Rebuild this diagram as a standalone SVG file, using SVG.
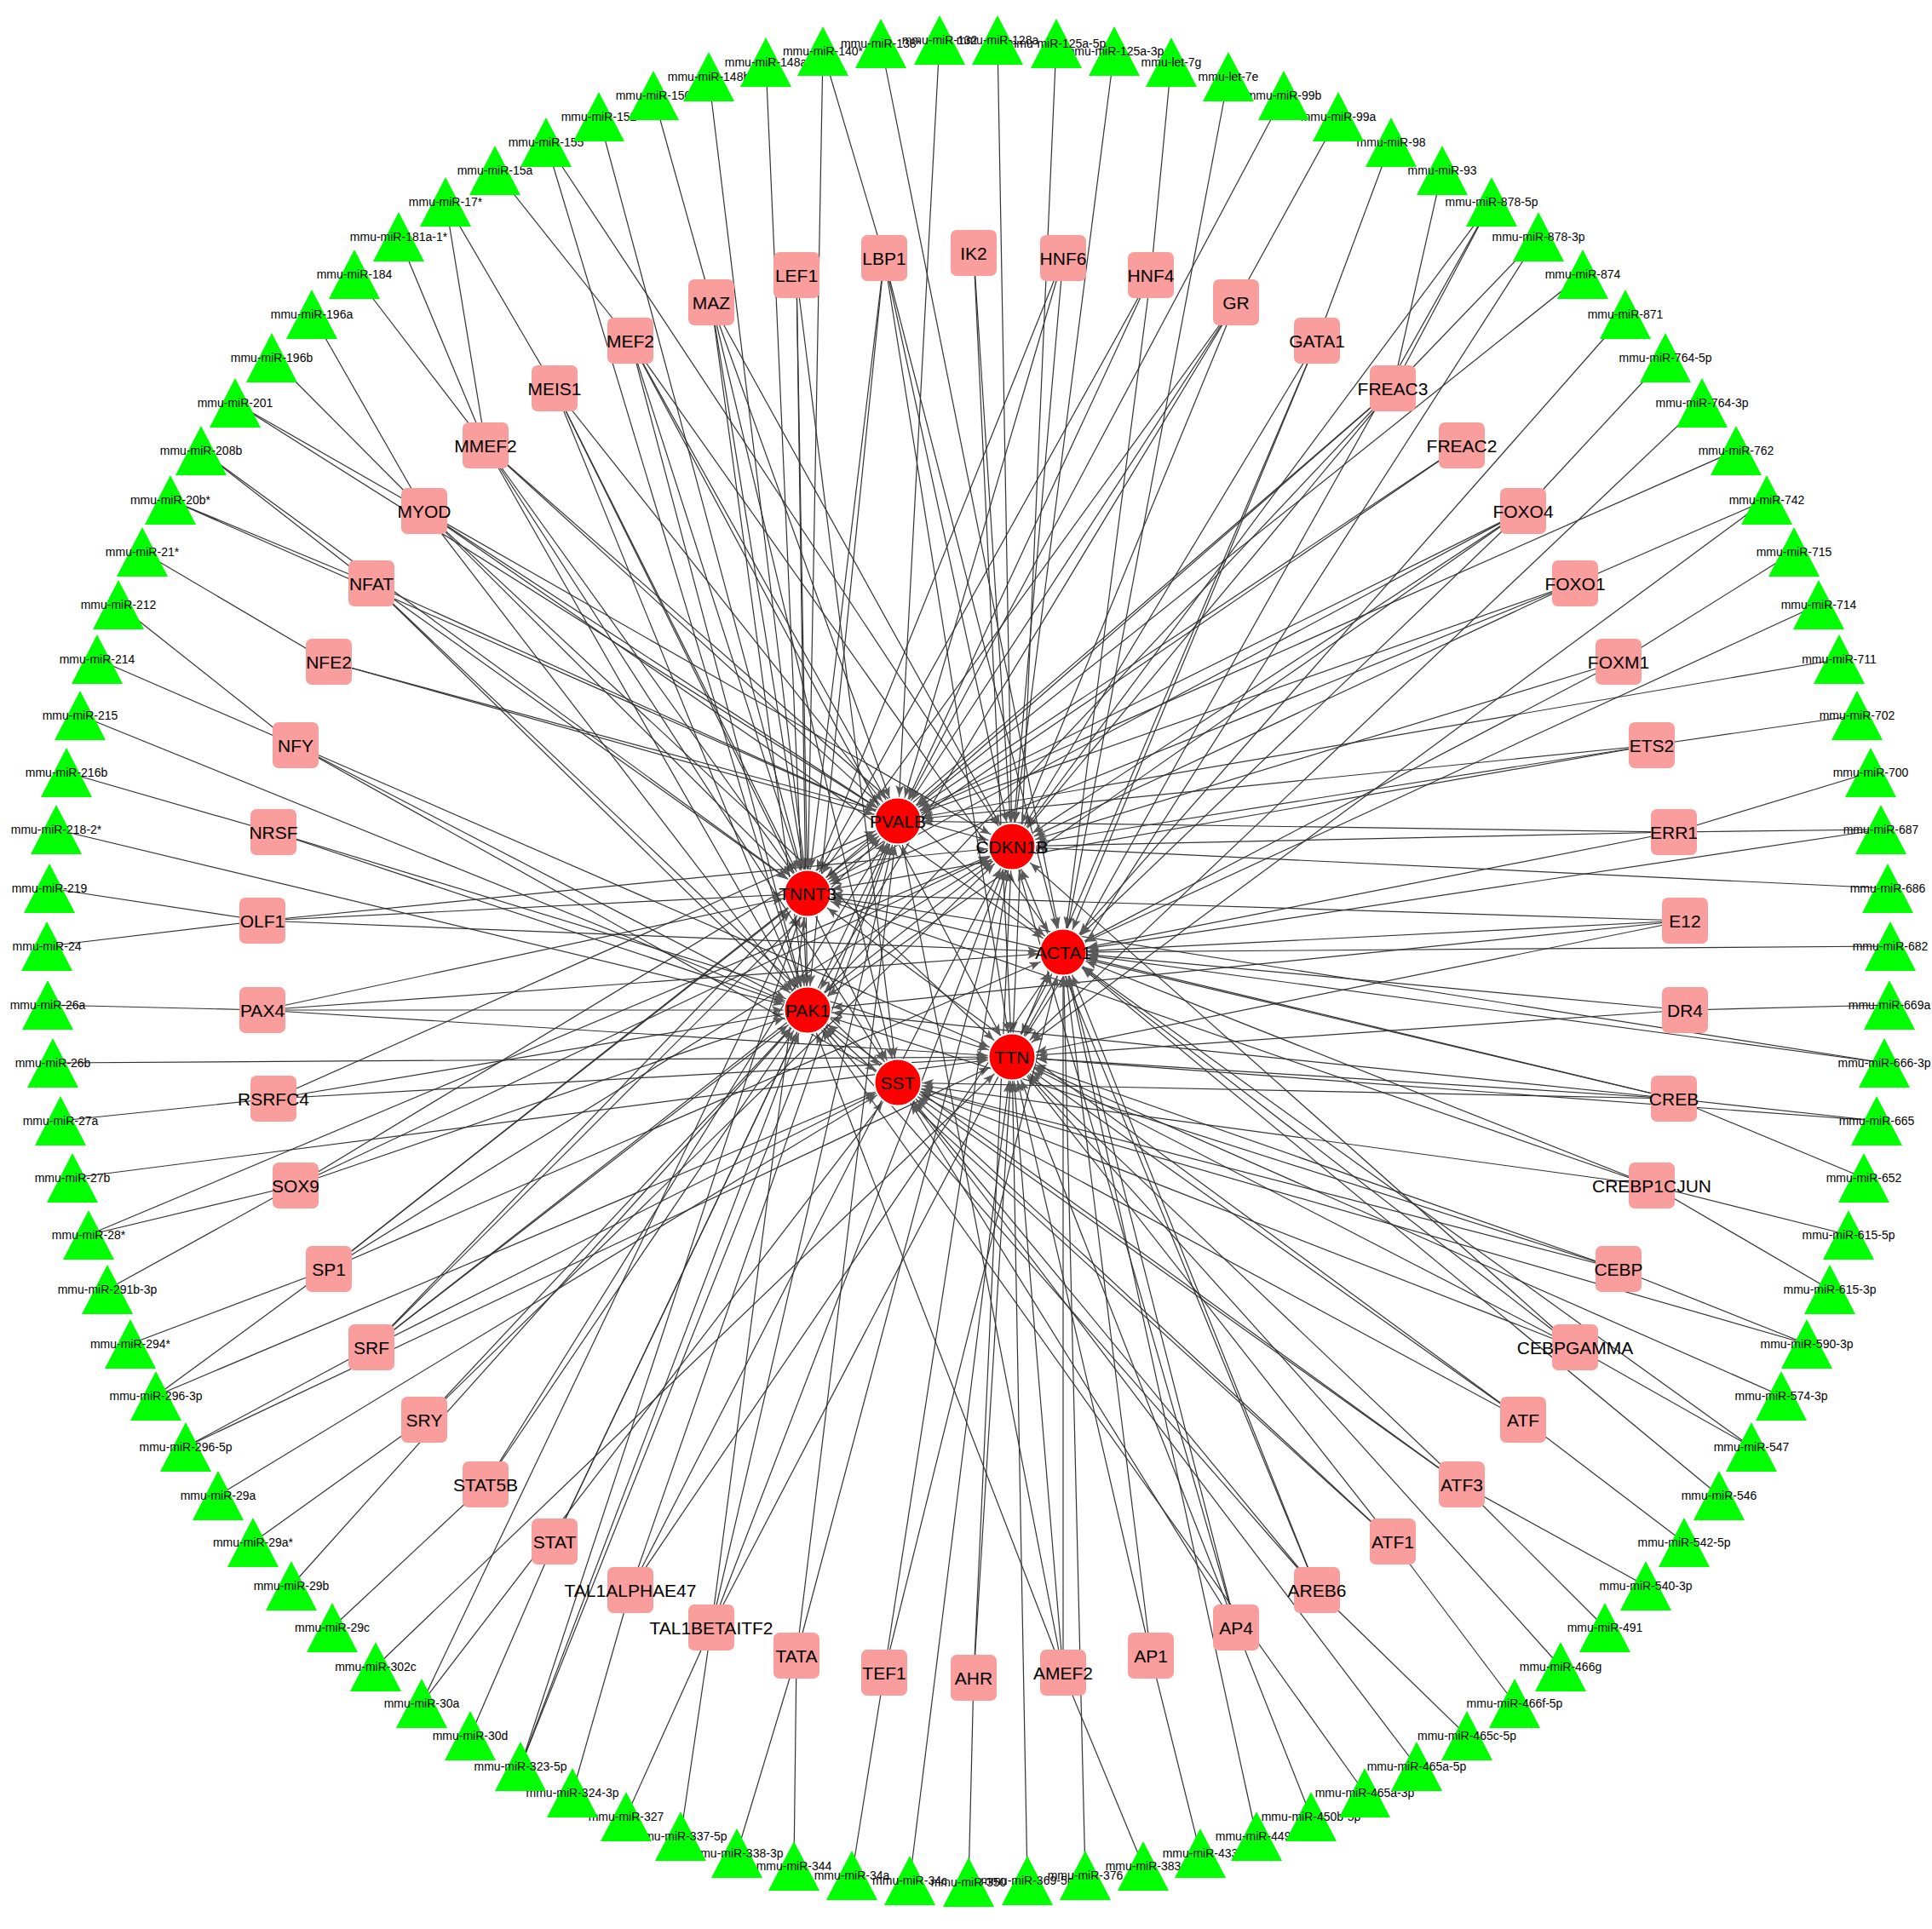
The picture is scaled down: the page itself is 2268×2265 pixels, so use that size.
<svg xmlns="http://www.w3.org/2000/svg" xmlns:xlink="http://www.w3.org/1999/xlink" width="2268" height="2265" viewBox="0 0 2268 2265">
<style>
.bg{fill:#fff}
#connectors line{stroke:#333;stroke-width:1.2;fill:none}
#connectors line.a{marker-end:url(#arr)}
.mi use{fill:#00ff00}
.mi text{font-family:"Liberation Sans",Arial,sans-serif;font-size:14px;fill:#000;text-anchor:middle}
.tf rect{fill:#fa9d9d}
.tf text,.gn text{font-family:"Liberation Sans",Arial,sans-serif;font-size:21px;fill:#000;text-anchor:middle}
.gn circle{fill:#ff0000;stroke:#fff;stroke-width:2}
</style>
<defs>
<marker id="arr" markerUnits="userSpaceOnUse" markerWidth="14" markerHeight="10" refX="42" refY="5" orient="auto"><path d="M0,0L13,5L0,10L3,5z" fill="#5a5a5a"/></marker>
<polygon id="tri" points="0,-29 30,29 -30,29"/>
</defs>
<rect class="bg" x="0" y="0" width="2268" height="2265"/>
<g id="connectors">
<line x1="1375" y1="73" x2="1351" y2="323"/>
<line x1="1571" y1="137" x2="1451" y2="355"/>
<line x1="1633" y1="167" x2="1546" y2="400"/>
<line x1="1693" y1="200" x2="1635" y2="456"/>
<line x1="1751" y1="237" x2="1635" y2="456"/>
<line x1="1806" y1="278" x2="1635" y2="456"/>
<line x1="1955" y1="420" x2="1788" y2="600"/>
<line x1="2074" y1="587" x2="1849" y2="685"/>
<line x1="2106" y1="648" x2="1900" y2="777"/>
<line x1="2180" y1="840" x2="1939" y2="875"/>
<line x1="2196" y1="907" x2="1965" y2="977"/>
<line x1="2208" y1="974" x2="1965" y2="977"/>
<line x1="2218" y1="1180" x2="1978" y2="1186"/>
<line x1="2203" y1="1316" x2="1965" y2="1290"/>
<line x1="2188" y1="1383" x2="1965" y2="1290"/>
<line x1="2170" y1="1450" x2="1939" y2="1392"/>
<line x1="2148" y1="1514" x2="1939" y2="1392"/>
<line x1="2121" y1="1578" x2="1900" y2="1490"/>
<line x1="2056" y1="1699" x2="1849" y2="1582"/>
<line x1="1977" y1="1811" x2="1788" y2="1667"/>
<line x1="1932" y1="1862" x2="1716" y2="1743"/>
<line x1="1884" y1="1911" x2="1716" y2="1743"/>
<line x1="1778" y1="2000" x2="1635" y2="1810"/>
<line x1="1722" y1="2038" x2="1546" y2="1867"/>
<line x1="1539" y1="2133" x2="1451" y2="1911"/>
<line x1="1409" y1="2176" x2="1351" y2="1944"/>
<line x1="1342" y1="2191" x2="1248" y2="1964"/>
<line x1="1137" y1="2210" x2="1143" y2="1970"/>
<line x1="1000" y1="2202" x2="1038" y2="1964"/>
<line x1="932" y1="2191" x2="935" y2="1944"/>
<line x1="865" y1="2176" x2="935" y2="1944"/>
<line x1="799" y1="2156" x2="835" y2="1911"/>
<line x1="735" y1="2133" x2="835" y2="1911"/>
<line x1="672" y1="2105" x2="740" y2="1867"/>
<line x1="552" y1="2038" x2="651" y2="1810"/>
<line x1="390" y1="1911" x2="570" y2="1743"/>
<line x1="297" y1="1811" x2="498" y2="1667"/>
<line x1="218" y1="1699" x2="436" y2="1582"/>
<line x1="183" y1="1639" x2="386" y2="1490"/>
<line x1="153" y1="1578" x2="386" y2="1490"/>
<line x1="126" y1="1514" x2="347" y2="1392"/>
<line x1="104" y1="1450" x2="347" y2="1392"/>
<line x1="71" y1="1316" x2="321" y2="1290"/>
<line x1="56" y1="1180" x2="308" y2="1186"/>
<line x1="55" y1="1111" x2="308" y2="1081"/>
<line x1="58" y1="1043" x2="308" y2="1081"/>
<line x1="78" y1="907" x2="321" y2="977"/>
<line x1="114" y1="774" x2="347" y2="875"/>
<line x1="139" y1="710" x2="347" y2="875"/>
<line x1="167" y1="648" x2="386" y2="777"/>
<line x1="200" y1="587" x2="436" y2="685"/>
<line x1="236" y1="529" x2="436" y2="685"/>
<line x1="276" y1="473" x2="498" y2="600"/>
<line x1="319" y1="420" x2="498" y2="600"/>
<line x1="366" y1="369" x2="498" y2="600"/>
<line x1="416" y1="322" x2="570" y2="523"/>
<line x1="468" y1="278" x2="570" y2="523"/>
<line x1="523" y1="237" x2="570" y2="523"/>
<line x1="523" y1="237" x2="651" y2="456"/>
<line x1="581" y1="200" x2="740" y2="400"/>
<line x1="767" y1="112" x2="835" y2="355"/>
<line x1="966" y1="60" x2="1038" y2="303"/>
<line class="a" x1="1103" y1="47" x2="1054" y2="964"/>
<line class="a" x1="1171" y1="47" x2="1188" y2="994"/>
<line class="a" x1="1240" y1="51" x2="1188" y2="1241"/>
<line class="a" x1="1308" y1="60" x2="1188" y2="994"/>
<line class="a" x1="1442" y1="90" x2="1248" y2="1118"/>
<line class="a" x1="1507" y1="112" x2="1054" y2="964"/>
<line class="a" x1="1751" y1="237" x2="1188" y2="994"/>
<line class="a" x1="1751" y1="237" x2="1188" y2="1241"/>
<line class="a" x1="1806" y1="278" x2="1188" y2="1241"/>
<line class="a" x1="1858" y1="322" x2="1054" y2="964"/>
<line class="a" x1="1908" y1="369" x2="1248" y2="1118"/>
<line class="a" x1="1998" y1="473" x2="1188" y2="1241"/>
<line class="a" x1="2038" y1="529" x2="1054" y2="964"/>
<line class="a" x1="2074" y1="587" x2="1188" y2="1241"/>
<line class="a" x1="2135" y1="710" x2="1248" y2="1118"/>
<line class="a" x1="2159" y1="774" x2="1054" y2="964"/>
<line class="a" x1="2208" y1="974" x2="1248" y2="1118"/>
<line class="a" x1="2216" y1="1043" x2="1188" y2="994"/>
<line class="a" x1="2219" y1="1111" x2="1248" y2="1118"/>
<line class="a" x1="2212" y1="1248" x2="1248" y2="1118"/>
<line class="a" x1="2212" y1="1248" x2="948" y2="1049"/>
<line class="a" x1="2203" y1="1316" x2="1188" y2="1241"/>
<line class="a" x1="2121" y1="1578" x2="1054" y2="1271"/>
<line class="a" x1="2091" y1="1639" x2="1188" y2="1241"/>
<line class="a" x1="2056" y1="1699" x2="1248" y2="1118"/>
<line class="a" x1="2018" y1="1756" x2="1248" y2="1118"/>
<line class="a" x1="1832" y1="1957" x2="1188" y2="1241"/>
<line class="a" x1="1663" y1="2074" x2="1054" y2="1271"/>
<line class="a" x1="1602" y1="2105" x2="948" y2="1186"/>
<line class="a" x1="1475" y1="2156" x2="1248" y2="1118"/>
<line class="a" x1="1274" y1="2202" x2="1248" y2="1118"/>
<line class="a" x1="1206" y1="2208" x2="1188" y2="1241"/>
<line class="a" x1="1068" y1="2208" x2="1188" y2="1241"/>
<line class="a" x1="611" y1="2074" x2="948" y2="1049"/>
<line class="a" x1="611" y1="2074" x2="948" y2="1186"/>
<line class="a" x1="611" y1="2074" x2="1054" y2="964"/>
<line class="a" x1="495" y1="2000" x2="948" y2="1049"/>
<line class="a" x1="495" y1="2000" x2="1054" y2="1271"/>
<line class="a" x1="441" y1="1957" x2="1188" y2="1241"/>
<line class="a" x1="342" y1="1862" x2="948" y2="1186"/>
<line class="a" x1="256" y1="1756" x2="1054" y2="1271"/>
<line class="a" x1="218" y1="1699" x2="1188" y2="1241"/>
<line class="a" x1="183" y1="1639" x2="1054" y2="1271"/>
<line class="a" x1="104" y1="1450" x2="1188" y2="994"/>
<line class="a" x1="85" y1="1383" x2="1188" y2="1241"/>
<line class="a" x1="62" y1="1248" x2="1188" y2="1241"/>
<line class="a" x1="66" y1="974" x2="948" y2="1186"/>
<line class="a" x1="94" y1="840" x2="948" y2="1186"/>
<line class="a" x1="200" y1="587" x2="1054" y2="964"/>
<line class="a" x1="236" y1="529" x2="948" y2="1049"/>
<line class="a" x1="276" y1="473" x2="1054" y2="964"/>
<line class="a" x1="641" y1="167" x2="1188" y2="994"/>
<line class="a" x1="641" y1="167" x2="948" y2="1186"/>
<line class="a" x1="703" y1="137" x2="948" y2="1049"/>
<line class="a" x1="832" y1="90" x2="948" y2="1049"/>
<line class="a" x1="899" y1="73" x2="948" y2="1186"/>
<line class="a" x1="966" y1="60" x2="948" y2="1049"/>
<line class="a" x1="1034" y1="51" x2="1248" y2="1118"/>
<line class="a" x1="1143" y1="297" x2="1188" y2="994"/>
<line class="a" x1="1143" y1="297" x2="1188" y2="1241"/>
<line class="a" x1="1248" y1="303" x2="1054" y2="964"/>
<line class="a" x1="1248" y1="303" x2="1188" y2="994"/>
<line class="a" x1="1248" y1="303" x2="948" y2="1049"/>
<line class="a" x1="1351" y1="323" x2="1054" y2="964"/>
<line class="a" x1="1351" y1="323" x2="948" y2="1049"/>
<line class="a" x1="1351" y1="323" x2="1248" y2="1118"/>
<line class="a" x1="1451" y1="355" x2="1054" y2="964"/>
<line class="a" x1="1451" y1="355" x2="948" y2="1049"/>
<line class="a" x1="1451" y1="355" x2="948" y2="1186"/>
<line class="a" x1="1451" y1="355" x2="1188" y2="994"/>
<line class="a" x1="1546" y1="400" x2="1188" y2="994"/>
<line class="a" x1="1546" y1="400" x2="1248" y2="1118"/>
<line class="a" x1="1546" y1="400" x2="1188" y2="1241"/>
<line class="a" x1="1635" y1="456" x2="1054" y2="964"/>
<line class="a" x1="1635" y1="456" x2="948" y2="1049"/>
<line class="a" x1="1635" y1="456" x2="1188" y2="994"/>
<line class="a" x1="1635" y1="456" x2="948" y2="1186"/>
<line class="a" x1="1716" y1="523" x2="1054" y2="964"/>
<line class="a" x1="1716" y1="523" x2="948" y2="1049"/>
<line class="a" x1="1788" y1="600" x2="1054" y2="964"/>
<line class="a" x1="1788" y1="600" x2="1188" y2="994"/>
<line class="a" x1="1788" y1="600" x2="948" y2="1049"/>
<line class="a" x1="1788" y1="600" x2="1248" y2="1118"/>
<line class="a" x1="1788" y1="600" x2="948" y2="1186"/>
<line class="a" x1="1849" y1="685" x2="1054" y2="964"/>
<line class="a" x1="1849" y1="685" x2="1188" y2="994"/>
<line class="a" x1="1849" y1="685" x2="948" y2="1049"/>
<line class="a" x1="1900" y1="777" x2="1188" y2="994"/>
<line class="a" x1="1900" y1="777" x2="1248" y2="1118"/>
<line class="a" x1="1939" y1="875" x2="1054" y2="964"/>
<line class="a" x1="1939" y1="875" x2="1188" y2="994"/>
<line class="a" x1="1939" y1="875" x2="948" y2="1049"/>
<line class="a" x1="1965" y1="977" x2="1054" y2="964"/>
<line class="a" x1="1965" y1="977" x2="1188" y2="994"/>
<line class="a" x1="1965" y1="977" x2="1248" y2="1118"/>
<line class="a" x1="1978" y1="1081" x2="948" y2="1049"/>
<line class="a" x1="1978" y1="1081" x2="1248" y2="1118"/>
<line class="a" x1="1978" y1="1081" x2="948" y2="1186"/>
<line class="a" x1="1978" y1="1081" x2="1188" y2="1241"/>
<line class="a" x1="1978" y1="1186" x2="1248" y2="1118"/>
<line class="a" x1="1978" y1="1186" x2="1188" y2="1241"/>
<line class="a" x1="1965" y1="1290" x2="948" y2="1049"/>
<line class="a" x1="1965" y1="1290" x2="1248" y2="1118"/>
<line class="a" x1="1965" y1="1290" x2="948" y2="1186"/>
<line class="a" x1="1965" y1="1290" x2="1188" y2="1241"/>
<line class="a" x1="1965" y1="1290" x2="1054" y2="1271"/>
<line class="a" x1="1939" y1="1392" x2="948" y2="1049"/>
<line class="a" x1="1939" y1="1392" x2="1054" y2="1271"/>
<line class="a" x1="1939" y1="1392" x2="1248" y2="1118"/>
<line class="a" x1="1900" y1="1490" x2="1054" y2="1271"/>
<line class="a" x1="1900" y1="1490" x2="1188" y2="1241"/>
<line class="a" x1="1900" y1="1490" x2="948" y2="1186"/>
<line class="a" x1="1849" y1="1582" x2="1248" y2="1118"/>
<line class="a" x1="1849" y1="1582" x2="1188" y2="1241"/>
<line class="a" x1="1849" y1="1582" x2="1054" y2="1271"/>
<line class="a" x1="1849" y1="1582" x2="1188" y2="994"/>
<line class="a" x1="1788" y1="1667" x2="1054" y2="1271"/>
<line class="a" x1="1788" y1="1667" x2="1188" y2="1241"/>
<line class="a" x1="1788" y1="1667" x2="948" y2="1049"/>
<line class="a" x1="1716" y1="1743" x2="1054" y2="1271"/>
<line class="a" x1="1716" y1="1743" x2="1188" y2="1241"/>
<line class="a" x1="1716" y1="1743" x2="948" y2="1186"/>
<line class="a" x1="1635" y1="1810" x2="1054" y2="1271"/>
<line class="a" x1="1635" y1="1810" x2="1188" y2="1241"/>
<line class="a" x1="1635" y1="1810" x2="948" y2="1186"/>
<line class="a" x1="1546" y1="1867" x2="1248" y2="1118"/>
<line class="a" x1="1546" y1="1867" x2="1188" y2="994"/>
<line class="a" x1="1546" y1="1867" x2="948" y2="1186"/>
<line class="a" x1="1546" y1="1867" x2="1054" y2="1271"/>
<line class="a" x1="1451" y1="1911" x2="1188" y2="994"/>
<line class="a" x1="1451" y1="1911" x2="1248" y2="1118"/>
<line class="a" x1="1451" y1="1911" x2="1188" y2="1241"/>
<line class="a" x1="1451" y1="1911" x2="1054" y2="1271"/>
<line class="a" x1="1351" y1="1944" x2="1188" y2="1241"/>
<line class="a" x1="1351" y1="1944" x2="1248" y2="1118"/>
<line class="a" x1="1248" y1="1964" x2="1054" y2="964"/>
<line class="a" x1="1248" y1="1964" x2="1188" y2="1241"/>
<line class="a" x1="1248" y1="1964" x2="1248" y2="1118"/>
<line class="a" x1="1248" y1="1964" x2="948" y2="1186"/>
<line class="a" x1="1143" y1="1970" x2="1188" y2="994"/>
<line class="a" x1="1143" y1="1970" x2="1188" y2="1241"/>
<line class="a" x1="1038" y1="1964" x2="1188" y2="994"/>
<line class="a" x1="1038" y1="1964" x2="1248" y2="1118"/>
<line class="a" x1="935" y1="1944" x2="1188" y2="994"/>
<line class="a" x1="935" y1="1944" x2="1054" y2="964"/>
<line class="a" x1="835" y1="1911" x2="1054" y2="964"/>
<line class="a" x1="835" y1="1911" x2="1188" y2="994"/>
<line class="a" x1="835" y1="1911" x2="948" y2="1049"/>
<line class="a" x1="835" y1="1911" x2="1248" y2="1118"/>
<line class="a" x1="740" y1="1867" x2="1248" y2="1118"/>
<line class="a" x1="740" y1="1867" x2="1188" y2="994"/>
<line class="a" x1="740" y1="1867" x2="1054" y2="964"/>
<line class="a" x1="651" y1="1810" x2="1054" y2="964"/>
<line class="a" x1="651" y1="1810" x2="948" y2="1186"/>
<line class="a" x1="570" y1="1743" x2="948" y2="1186"/>
<line class="a" x1="570" y1="1743" x2="1054" y2="964"/>
<line class="a" x1="498" y1="1667" x2="948" y2="1186"/>
<line class="a" x1="498" y1="1667" x2="1188" y2="994"/>
<line class="a" x1="436" y1="1582" x2="948" y2="1186"/>
<line class="a" x1="436" y1="1582" x2="1054" y2="964"/>
<line class="a" x1="436" y1="1582" x2="1188" y2="994"/>
<line class="a" x1="436" y1="1582" x2="948" y2="1049"/>
<line class="a" x1="436" y1="1582" x2="1054" y2="1271"/>
<line class="a" x1="386" y1="1490" x2="1054" y2="964"/>
<line class="a" x1="386" y1="1490" x2="1188" y2="994"/>
<line class="a" x1="386" y1="1490" x2="1248" y2="1118"/>
<line class="a" x1="386" y1="1490" x2="948" y2="1049"/>
<line class="a" x1="347" y1="1392" x2="1054" y2="964"/>
<line class="a" x1="347" y1="1392" x2="1188" y2="994"/>
<line class="a" x1="347" y1="1392" x2="948" y2="1186"/>
<line class="a" x1="321" y1="1290" x2="1054" y2="964"/>
<line class="a" x1="321" y1="1290" x2="948" y2="1186"/>
<line class="a" x1="321" y1="1290" x2="1188" y2="1241"/>
<line class="a" x1="308" y1="1186" x2="948" y2="1049"/>
<line class="a" x1="308" y1="1186" x2="1248" y2="1118"/>
<line class="a" x1="308" y1="1186" x2="948" y2="1186"/>
<line class="a" x1="308" y1="1186" x2="1188" y2="1241"/>
<line class="a" x1="308" y1="1081" x2="948" y2="1049"/>
<line class="a" x1="308" y1="1081" x2="1188" y2="994"/>
<line class="a" x1="308" y1="1081" x2="1248" y2="1118"/>
<line class="a" x1="321" y1="977" x2="948" y2="1186"/>
<line class="a" x1="321" y1="977" x2="1188" y2="1241"/>
<line class="a" x1="347" y1="875" x2="948" y2="1186"/>
<line class="a" x1="347" y1="875" x2="1054" y2="1271"/>
<line class="a" x1="347" y1="875" x2="1188" y2="1241"/>
<line class="a" x1="386" y1="777" x2="1054" y2="964"/>
<line class="a" x1="386" y1="777" x2="1188" y2="994"/>
<line class="a" x1="436" y1="685" x2="948" y2="1049"/>
<line class="a" x1="436" y1="685" x2="948" y2="1186"/>
<line class="a" x1="436" y1="685" x2="1054" y2="1271"/>
<line class="a" x1="436" y1="685" x2="1054" y2="964"/>
<line class="a" x1="498" y1="600" x2="1054" y2="964"/>
<line class="a" x1="498" y1="600" x2="1188" y2="994"/>
<line class="a" x1="498" y1="600" x2="948" y2="1049"/>
<line class="a" x1="498" y1="600" x2="1248" y2="1118"/>
<line class="a" x1="498" y1="600" x2="1188" y2="1241"/>
<line class="a" x1="498" y1="600" x2="948" y2="1186"/>
<line class="a" x1="570" y1="523" x2="948" y2="1049"/>
<line class="a" x1="570" y1="523" x2="948" y2="1186"/>
<line class="a" x1="570" y1="523" x2="1054" y2="964"/>
<line class="a" x1="570" y1="523" x2="1054" y2="1271"/>
<line class="a" x1="570" y1="523" x2="1248" y2="1118"/>
<line class="a" x1="651" y1="456" x2="948" y2="1049"/>
<line class="a" x1="651" y1="456" x2="1054" y2="964"/>
<line class="a" x1="651" y1="456" x2="948" y2="1186"/>
<line class="a" x1="651" y1="456" x2="1054" y2="1271"/>
<line class="a" x1="740" y1="400" x2="948" y2="1049"/>
<line class="a" x1="740" y1="400" x2="1054" y2="964"/>
<line class="a" x1="740" y1="400" x2="1248" y2="1118"/>
<line class="a" x1="740" y1="400" x2="1188" y2="1241"/>
<line class="a" x1="740" y1="400" x2="948" y2="1186"/>
<line class="a" x1="835" y1="355" x2="948" y2="1049"/>
<line class="a" x1="835" y1="355" x2="948" y2="1186"/>
<line class="a" x1="835" y1="355" x2="1054" y2="964"/>
<line class="a" x1="835" y1="355" x2="1054" y2="1271"/>
<line class="a" x1="835" y1="355" x2="1188" y2="994"/>
<line class="a" x1="935" y1="323" x2="948" y2="1049"/>
<line class="a" x1="935" y1="323" x2="948" y2="1186"/>
<line class="a" x1="935" y1="323" x2="1054" y2="1271"/>
<line class="a" x1="1038" y1="303" x2="1188" y2="994"/>
<line class="a" x1="1038" y1="303" x2="1248" y2="1118"/>
<line class="a" x1="1038" y1="303" x2="1188" y2="1241"/>
<line class="a" x1="1038" y1="303" x2="948" y2="1049"/>
<line class="a" x1="1038" y1="303" x2="948" y2="1186"/>
</g>
<g id="tf-nodes" class="tf">
<g id="tf-IK2" transform="translate(1143,297)"><rect x="-27" y="-27" width="54" height="54" rx="7"/><text y="7.5">IK2</text></g>
<g id="tf-HNF6" transform="translate(1248,303)"><rect x="-27" y="-27" width="54" height="54" rx="7"/><text y="7.5">HNF6</text></g>
<g id="tf-HNF4" transform="translate(1351,323)"><rect x="-27" y="-27" width="54" height="54" rx="7"/><text y="7.5">HNF4</text></g>
<g id="tf-GR" transform="translate(1451,355)"><rect x="-27" y="-27" width="54" height="54" rx="7"/><text y="7.5">GR</text></g>
<g id="tf-GATA1" transform="translate(1546,400)"><rect x="-27" y="-27" width="54" height="54" rx="7"/><text y="7.5">GATA1</text></g>
<g id="tf-FREAC3" transform="translate(1635,456)"><rect x="-27" y="-27" width="54" height="54" rx="7"/><text y="7.5">FREAC3</text></g>
<g id="tf-FREAC2" transform="translate(1716,523)"><rect x="-27" y="-27" width="54" height="54" rx="7"/><text y="7.5">FREAC2</text></g>
<g id="tf-FOXO4" transform="translate(1788,600)"><rect x="-27" y="-27" width="54" height="54" rx="7"/><text y="7.5">FOXO4</text></g>
<g id="tf-FOXO1" transform="translate(1849,685)"><rect x="-27" y="-27" width="54" height="54" rx="7"/><text y="7.5">FOXO1</text></g>
<g id="tf-FOXM1" transform="translate(1900,777)"><rect x="-27" y="-27" width="54" height="54" rx="7"/><text y="7.5">FOXM1</text></g>
<g id="tf-ETS2" transform="translate(1939,875)"><rect x="-27" y="-27" width="54" height="54" rx="7"/><text y="7.5">ETS2</text></g>
<g id="tf-ERR1" transform="translate(1965,977)"><rect x="-27" y="-27" width="54" height="54" rx="7"/><text y="7.5">ERR1</text></g>
<g id="tf-E12" transform="translate(1978,1081)"><rect x="-27" y="-27" width="54" height="54" rx="7"/><text y="7.5">E12</text></g>
<g id="tf-DR4" transform="translate(1978,1186)"><rect x="-27" y="-27" width="54" height="54" rx="7"/><text y="7.5">DR4</text></g>
<g id="tf-CREB" transform="translate(1965,1290)"><rect x="-27" y="-27" width="54" height="54" rx="7"/><text y="7.5">CREB</text></g>
<g id="tf-CREBP1CJUN" transform="translate(1939,1392)"><rect x="-27" y="-27" width="54" height="54" rx="7"/><text y="7.5">CREBP1CJUN</text></g>
<g id="tf-CEBP" transform="translate(1900,1490)"><rect x="-27" y="-27" width="54" height="54" rx="7"/><text y="7.5">CEBP</text></g>
<g id="tf-CEBPGAMMA" transform="translate(1849,1582)"><rect x="-27" y="-27" width="54" height="54" rx="7"/><text y="7.5">CEBPGAMMA</text></g>
<g id="tf-ATF" transform="translate(1788,1667)"><rect x="-27" y="-27" width="54" height="54" rx="7"/><text y="7.5">ATF</text></g>
<g id="tf-ATF3" transform="translate(1716,1743)"><rect x="-27" y="-27" width="54" height="54" rx="7"/><text y="7.5">ATF3</text></g>
<g id="tf-ATF1" transform="translate(1635,1810)"><rect x="-27" y="-27" width="54" height="54" rx="7"/><text y="7.5">ATF1</text></g>
<g id="tf-AREB6" transform="translate(1546,1867)"><rect x="-27" y="-27" width="54" height="54" rx="7"/><text y="7.5">AREB6</text></g>
<g id="tf-AP4" transform="translate(1451,1911)"><rect x="-27" y="-27" width="54" height="54" rx="7"/><text y="7.5">AP4</text></g>
<g id="tf-AP1" transform="translate(1351,1944)"><rect x="-27" y="-27" width="54" height="54" rx="7"/><text y="7.5">AP1</text></g>
<g id="tf-AMEF2" transform="translate(1248,1964)"><rect x="-27" y="-27" width="54" height="54" rx="7"/><text y="7.5">AMEF2</text></g>
<g id="tf-AHR" transform="translate(1143,1970)"><rect x="-27" y="-27" width="54" height="54" rx="7"/><text y="7.5">AHR</text></g>
<g id="tf-TEF1" transform="translate(1038,1964)"><rect x="-27" y="-27" width="54" height="54" rx="7"/><text y="7.5">TEF1</text></g>
<g id="tf-TATA" transform="translate(935,1944)"><rect x="-27" y="-27" width="54" height="54" rx="7"/><text y="7.5">TATA</text></g>
<g id="tf-TAL1BETAITF2" transform="translate(835,1911)"><rect x="-27" y="-27" width="54" height="54" rx="7"/><text y="7.5">TAL1BETAITF2</text></g>
<g id="tf-TAL1ALPHAE47" transform="translate(740,1867)"><rect x="-27" y="-27" width="54" height="54" rx="7"/><text y="7.5">TAL1ALPHAE47</text></g>
<g id="tf-STAT" transform="translate(651,1810)"><rect x="-27" y="-27" width="54" height="54" rx="7"/><text y="7.5">STAT</text></g>
<g id="tf-STAT5B" transform="translate(570,1743)"><rect x="-27" y="-27" width="54" height="54" rx="7"/><text y="7.5">STAT5B</text></g>
<g id="tf-SRY" transform="translate(498,1667)"><rect x="-27" y="-27" width="54" height="54" rx="7"/><text y="7.5">SRY</text></g>
<g id="tf-SRF" transform="translate(436,1582)"><rect x="-27" y="-27" width="54" height="54" rx="7"/><text y="7.5">SRF</text></g>
<g id="tf-SP1" transform="translate(386,1490)"><rect x="-27" y="-27" width="54" height="54" rx="7"/><text y="7.5">SP1</text></g>
<g id="tf-SOX9" transform="translate(347,1392)"><rect x="-27" y="-27" width="54" height="54" rx="7"/><text y="7.5">SOX9</text></g>
<g id="tf-RSRFC4" transform="translate(321,1290)"><rect x="-27" y="-27" width="54" height="54" rx="7"/><text y="7.5">RSRFC4</text></g>
<g id="tf-PAX4" transform="translate(308,1186)"><rect x="-27" y="-27" width="54" height="54" rx="7"/><text y="7.5">PAX4</text></g>
<g id="tf-OLF1" transform="translate(308,1081)"><rect x="-27" y="-27" width="54" height="54" rx="7"/><text y="7.5">OLF1</text></g>
<g id="tf-NRSF" transform="translate(321,977)"><rect x="-27" y="-27" width="54" height="54" rx="7"/><text y="7.5">NRSF</text></g>
<g id="tf-NFY" transform="translate(347,875)"><rect x="-27" y="-27" width="54" height="54" rx="7"/><text y="7.5">NFY</text></g>
<g id="tf-NFE2" transform="translate(386,777)"><rect x="-27" y="-27" width="54" height="54" rx="7"/><text y="7.5">NFE2</text></g>
<g id="tf-NFAT" transform="translate(436,685)"><rect x="-27" y="-27" width="54" height="54" rx="7"/><text y="7.5">NFAT</text></g>
<g id="tf-MYOD" transform="translate(498,600)"><rect x="-27" y="-27" width="54" height="54" rx="7"/><text y="7.5">MYOD</text></g>
<g id="tf-MMEF2" transform="translate(570,523)"><rect x="-27" y="-27" width="54" height="54" rx="7"/><text y="7.5">MMEF2</text></g>
<g id="tf-MEIS1" transform="translate(651,456)"><rect x="-27" y="-27" width="54" height="54" rx="7"/><text y="7.5">MEIS1</text></g>
<g id="tf-MEF2" transform="translate(740,400)"><rect x="-27" y="-27" width="54" height="54" rx="7"/><text y="7.5">MEF2</text></g>
<g id="tf-MAZ" transform="translate(835,355)"><rect x="-27" y="-27" width="54" height="54" rx="7"/><text y="7.5">MAZ</text></g>
<g id="tf-LEF1" transform="translate(935,323)"><rect x="-27" y="-27" width="54" height="54" rx="7"/><text y="7.5">LEF1</text></g>
<g id="tf-LBP1" transform="translate(1038,303)"><rect x="-27" y="-27" width="54" height="54" rx="7"/><text y="7.5">LBP1</text></g>
</g>
<g id="gene-nodes" class="gn">
<g id="g-ACTA1" transform="translate(1248,1118)"><circle r="27.5"/><text y="7.5">ACTA1</text></g>
<g id="g-CDKN1B" transform="translate(1188,994)"><circle r="27.5"/><text y="7.5">CDKN1B</text></g>
<g id="g-PVALB" transform="translate(1054,964)"><circle r="27.5"/><text y="7.5">PVALB</text></g>
<g id="g-TNNT3" transform="translate(948,1049)"><circle r="27.5"/><text y="7.5">TNNT3</text></g>
<g id="g-PAK1" transform="translate(948,1186)"><circle r="27.5"/><text y="7.5">PAK1</text></g>
<g id="g-SST" transform="translate(1054,1271)"><circle r="27.5"/><text y="7.5">SST</text></g>
<g id="g-TTN" transform="translate(1188,1241)"><circle r="27.5"/><text y="7.5">TTN</text></g>
</g>
<g id="mirna-nodes" class="mi">
<g id="m-350" transform="translate(1137,2210)"><use xlink:href="#tri"/><text y="5">mmu-miR-350</text></g>
<g id="m-369-5p" transform="translate(1206,2208)"><use xlink:href="#tri"/><text y="5">mmu-miR-369-5p</text></g>
<g id="m-34c" transform="translate(1068,2208)"><use xlink:href="#tri"/><text y="5">mmu-miR-34c</text></g>
<g id="m-376" transform="translate(1274,2202)"><use xlink:href="#tri"/><text y="5">mmu-miR-376</text></g>
<g id="m-34a" transform="translate(1000,2202)"><use xlink:href="#tri"/><text y="5">mmu-miR-34a</text></g>
<g id="m-383" transform="translate(1342,2191)"><use xlink:href="#tri"/><text y="5">mmu-miR-383</text></g>
<g id="m-344" transform="translate(932,2191)"><use xlink:href="#tri"/><text y="5">mmu-miR-344</text></g>
<g id="m-433" transform="translate(1409,2176)"><use xlink:href="#tri"/><text y="5">mmu-miR-433</text></g>
<g id="m-338-3p" transform="translate(865,2176)"><use xlink:href="#tri"/><text y="5">mmu-miR-338-3p</text></g>
<g id="m-449b" transform="translate(1475,2156)"><use xlink:href="#tri"/><text y="5">mmu-miR-449b</text></g>
<g id="m-337-5p" transform="translate(799,2156)"><use xlink:href="#tri"/><text y="5">mmu-miR-337-5p</text></g>
<g id="m-450b-5p" transform="translate(1539,2133)"><use xlink:href="#tri"/><text y="5">mmu-miR-450b-5p</text></g>
<g id="m-327" transform="translate(735,2133)"><use xlink:href="#tri"/><text y="5">mmu-miR-327</text></g>
<g id="m-465a-3p" transform="translate(1602,2105)"><use xlink:href="#tri"/><text y="5">mmu-miR-465a-3p</text></g>
<g id="m-324-3p" transform="translate(672,2105)"><use xlink:href="#tri"/><text y="5">mmu-miR-324-3p</text></g>
<g id="m-465a-5p" transform="translate(1663,2074)"><use xlink:href="#tri"/><text y="5">mmu-miR-465a-5p</text></g>
<g id="m-323-5p" transform="translate(611,2074)"><use xlink:href="#tri"/><text y="5">mmu-miR-323-5p</text></g>
<g id="m-465c-5p" transform="translate(1722,2038)"><use xlink:href="#tri"/><text y="5">mmu-miR-465c-5p</text></g>
<g id="m-30d" transform="translate(552,2038)"><use xlink:href="#tri"/><text y="5">mmu-miR-30d</text></g>
<g id="m-466f-5p" transform="translate(1778,2000)"><use xlink:href="#tri"/><text y="5">mmu-miR-466f-5p</text></g>
<g id="m-30a" transform="translate(495,2000)"><use xlink:href="#tri"/><text y="5">mmu-miR-30a</text></g>
<g id="m-466g" transform="translate(1832,1957)"><use xlink:href="#tri"/><text y="5">mmu-miR-466g</text></g>
<g id="m-302c" transform="translate(441,1957)"><use xlink:href="#tri"/><text y="5">mmu-miR-302c</text></g>
<g id="m-491" transform="translate(1884,1911)"><use xlink:href="#tri"/><text y="5">mmu-miR-491</text></g>
<g id="m-29c" transform="translate(390,1911)"><use xlink:href="#tri"/><text y="5">mmu-miR-29c</text></g>
<g id="m-540-3p" transform="translate(1932,1862)"><use xlink:href="#tri"/><text y="5">mmu-miR-540-3p</text></g>
<g id="m-29b" transform="translate(342,1862)"><use xlink:href="#tri"/><text y="5">mmu-miR-29b</text></g>
<g id="m-542-5p" transform="translate(1977,1811)"><use xlink:href="#tri"/><text y="5">mmu-miR-542-5p</text></g>
<g id="m-29as" transform="translate(297,1811)"><use xlink:href="#tri"/><text y="5">mmu-miR-29a*</text></g>
<g id="m-546" transform="translate(2018,1756)"><use xlink:href="#tri"/><text y="5">mmu-miR-546</text></g>
<g id="m-29a" transform="translate(256,1756)"><use xlink:href="#tri"/><text y="5">mmu-miR-29a</text></g>
<g id="m-547" transform="translate(2056,1699)"><use xlink:href="#tri"/><text y="5">mmu-miR-547</text></g>
<g id="m-296-5p" transform="translate(218,1699)"><use xlink:href="#tri"/><text y="5">mmu-miR-296-5p</text></g>
<g id="m-574-3p" transform="translate(2091,1639)"><use xlink:href="#tri"/><text y="5">mmu-miR-574-3p</text></g>
<g id="m-296-3p" transform="translate(183,1639)"><use xlink:href="#tri"/><text y="5">mmu-miR-296-3p</text></g>
<g id="m-590-3p" transform="translate(2121,1578)"><use xlink:href="#tri"/><text y="5">mmu-miR-590-3p</text></g>
<g id="m-294s" transform="translate(153,1578)"><use xlink:href="#tri"/><text y="5">mmu-miR-294*</text></g>
<g id="m-615-3p" transform="translate(2148,1514)"><use xlink:href="#tri"/><text y="5">mmu-miR-615-3p</text></g>
<g id="m-291b-3p" transform="translate(126,1514)"><use xlink:href="#tri"/><text y="5">mmu-miR-291b-3p</text></g>
<g id="m-615-5p" transform="translate(2170,1450)"><use xlink:href="#tri"/><text y="5">mmu-miR-615-5p</text></g>
<g id="m-28s" transform="translate(104,1450)"><use xlink:href="#tri"/><text y="5">mmu-miR-28*</text></g>
<g id="m-652" transform="translate(2188,1383)"><use xlink:href="#tri"/><text y="5">mmu-miR-652</text></g>
<g id="m-27b" transform="translate(85,1383)"><use xlink:href="#tri"/><text y="5">mmu-miR-27b</text></g>
<g id="m-665" transform="translate(2203,1316)"><use xlink:href="#tri"/><text y="5">mmu-miR-665</text></g>
<g id="m-27a" transform="translate(71,1316)"><use xlink:href="#tri"/><text y="5">mmu-miR-27a</text></g>
<g id="m-666-3p" transform="translate(2212,1248)"><use xlink:href="#tri"/><text y="5">mmu-miR-666-3p</text></g>
<g id="m-26b" transform="translate(62,1248)"><use xlink:href="#tri"/><text y="5">mmu-miR-26b</text></g>
<g id="m-669a" transform="translate(2218,1180)"><use xlink:href="#tri"/><text y="5">mmu-miR-669a</text></g>
<g id="m-26a" transform="translate(56,1180)"><use xlink:href="#tri"/><text y="5">mmu-miR-26a</text></g>
<g id="m-682" transform="translate(2219,1111)"><use xlink:href="#tri"/><text y="5">mmu-miR-682</text></g>
<g id="m-24" transform="translate(55,1111)"><use xlink:href="#tri"/><text y="5">mmu-miR-24</text></g>
<g id="m-686" transform="translate(2216,1043)"><use xlink:href="#tri"/><text y="5">mmu-miR-686</text></g>
<g id="m-219" transform="translate(58,1043)"><use xlink:href="#tri"/><text y="5">mmu-miR-219</text></g>
<g id="m-687" transform="translate(2208,974)"><use xlink:href="#tri"/><text y="5">mmu-miR-687</text></g>
<g id="m-218-2s" transform="translate(66,974)"><use xlink:href="#tri"/><text y="5">mmu-miR-218-2*</text></g>
<g id="m-700" transform="translate(2196,907)"><use xlink:href="#tri"/><text y="5">mmu-miR-700</text></g>
<g id="m-216b" transform="translate(78,907)"><use xlink:href="#tri"/><text y="5">mmu-miR-216b</text></g>
<g id="m-702" transform="translate(2180,840)"><use xlink:href="#tri"/><text y="5">mmu-miR-702</text></g>
<g id="m-215" transform="translate(94,840)"><use xlink:href="#tri"/><text y="5">mmu-miR-215</text></g>
<g id="m-711" transform="translate(2159,774)"><use xlink:href="#tri"/><text y="5">mmu-miR-711</text></g>
<g id="m-214" transform="translate(114,774)"><use xlink:href="#tri"/><text y="5">mmu-miR-214</text></g>
<g id="m-714" transform="translate(2135,710)"><use xlink:href="#tri"/><text y="5">mmu-miR-714</text></g>
<g id="m-212" transform="translate(139,710)"><use xlink:href="#tri"/><text y="5">mmu-miR-212</text></g>
<g id="m-715" transform="translate(2106,648)"><use xlink:href="#tri"/><text y="5">mmu-miR-715</text></g>
<g id="m-21s" transform="translate(167,648)"><use xlink:href="#tri"/><text y="5">mmu-miR-21*</text></g>
<g id="m-742" transform="translate(2074,587)"><use xlink:href="#tri"/><text y="5">mmu-miR-742</text></g>
<g id="m-20bs" transform="translate(200,587)"><use xlink:href="#tri"/><text y="5">mmu-miR-20b*</text></g>
<g id="m-762" transform="translate(2038,529)"><use xlink:href="#tri"/><text y="5">mmu-miR-762</text></g>
<g id="m-208b" transform="translate(236,529)"><use xlink:href="#tri"/><text y="5">mmu-miR-208b</text></g>
<g id="m-764-3p" transform="translate(1998,473)"><use xlink:href="#tri"/><text y="5">mmu-miR-764-3p</text></g>
<g id="m-201" transform="translate(276,473)"><use xlink:href="#tri"/><text y="5">mmu-miR-201</text></g>
<g id="m-764-5p" transform="translate(1955,420)"><use xlink:href="#tri"/><text y="5">mmu-miR-764-5p</text></g>
<g id="m-196b" transform="translate(319,420)"><use xlink:href="#tri"/><text y="5">mmu-miR-196b</text></g>
<g id="m-871" transform="translate(1908,369)"><use xlink:href="#tri"/><text y="5">mmu-miR-871</text></g>
<g id="m-196a" transform="translate(366,369)"><use xlink:href="#tri"/><text y="5">mmu-miR-196a</text></g>
<g id="m-874" transform="translate(1858,322)"><use xlink:href="#tri"/><text y="5">mmu-miR-874</text></g>
<g id="m-184" transform="translate(416,322)"><use xlink:href="#tri"/><text y="5">mmu-miR-184</text></g>
<g id="m-878-3p" transform="translate(1806,278)"><use xlink:href="#tri"/><text y="5">mmu-miR-878-3p</text></g>
<g id="m-181a-1s" transform="translate(468,278)"><use xlink:href="#tri"/><text y="5">mmu-miR-181a-1*</text></g>
<g id="m-878-5p" transform="translate(1751,237)"><use xlink:href="#tri"/><text y="5">mmu-miR-878-5p</text></g>
<g id="m-17s" transform="translate(523,237)"><use xlink:href="#tri"/><text y="5">mmu-miR-17*</text></g>
<g id="m-93" transform="translate(1693,200)"><use xlink:href="#tri"/><text y="5">mmu-miR-93</text></g>
<g id="m-15a" transform="translate(581,200)"><use xlink:href="#tri"/><text y="5">mmu-miR-15a</text></g>
<g id="m-98" transform="translate(1633,167)"><use xlink:href="#tri"/><text y="5">mmu-miR-98</text></g>
<g id="m-155" transform="translate(641,167)"><use xlink:href="#tri"/><text y="5">mmu-miR-155</text></g>
<g id="m-99a" transform="translate(1571,137)"><use xlink:href="#tri"/><text y="5">mmu-miR-99a</text></g>
<g id="m-152" transform="translate(703,137)"><use xlink:href="#tri"/><text y="5">mmu-miR-152</text></g>
<g id="m-99b" transform="translate(1507,112)"><use xlink:href="#tri"/><text y="5">mmu-miR-99b</text></g>
<g id="m-150" transform="translate(767,112)"><use xlink:href="#tri"/><text y="5">mmu-miR-150</text></g>
<g id="m-let-7e" transform="translate(1442,90)"><use xlink:href="#tri"/><text y="5">mmu-let-7e</text></g>
<g id="m-148b" transform="translate(832,90)"><use xlink:href="#tri"/><text y="5">mmu-miR-148b</text></g>
<g id="m-let-7g" transform="translate(1375,73)"><use xlink:href="#tri"/><text y="5">mmu-let-7g</text></g>
<g id="m-148a" transform="translate(899,73)"><use xlink:href="#tri"/><text y="5">mmu-miR-148a</text></g>
<g id="m-125a-3p" transform="translate(1308,60)"><use xlink:href="#tri"/><text y="5">mmu-miR-125a-3p</text></g>
<g id="m-140s" transform="translate(966,60)"><use xlink:href="#tri"/><text y="5">mmu-miR-140*</text></g>
<g id="m-125a-5p" transform="translate(1240,51)"><use xlink:href="#tri"/><text y="5">mmu-miR-125a-5p</text></g>
<g id="m-138s" transform="translate(1034,51)"><use xlink:href="#tri"/><text y="5">mmu-miR-138*</text></g>
<g id="m-128a" transform="translate(1171,47)"><use xlink:href="#tri"/><text y="5">mmu-miR-128a</text></g>
<g id="m-132" transform="translate(1103,47)"><use xlink:href="#tri"/><text y="5">mmu-miR-132</text></g>
</g>
</svg>
